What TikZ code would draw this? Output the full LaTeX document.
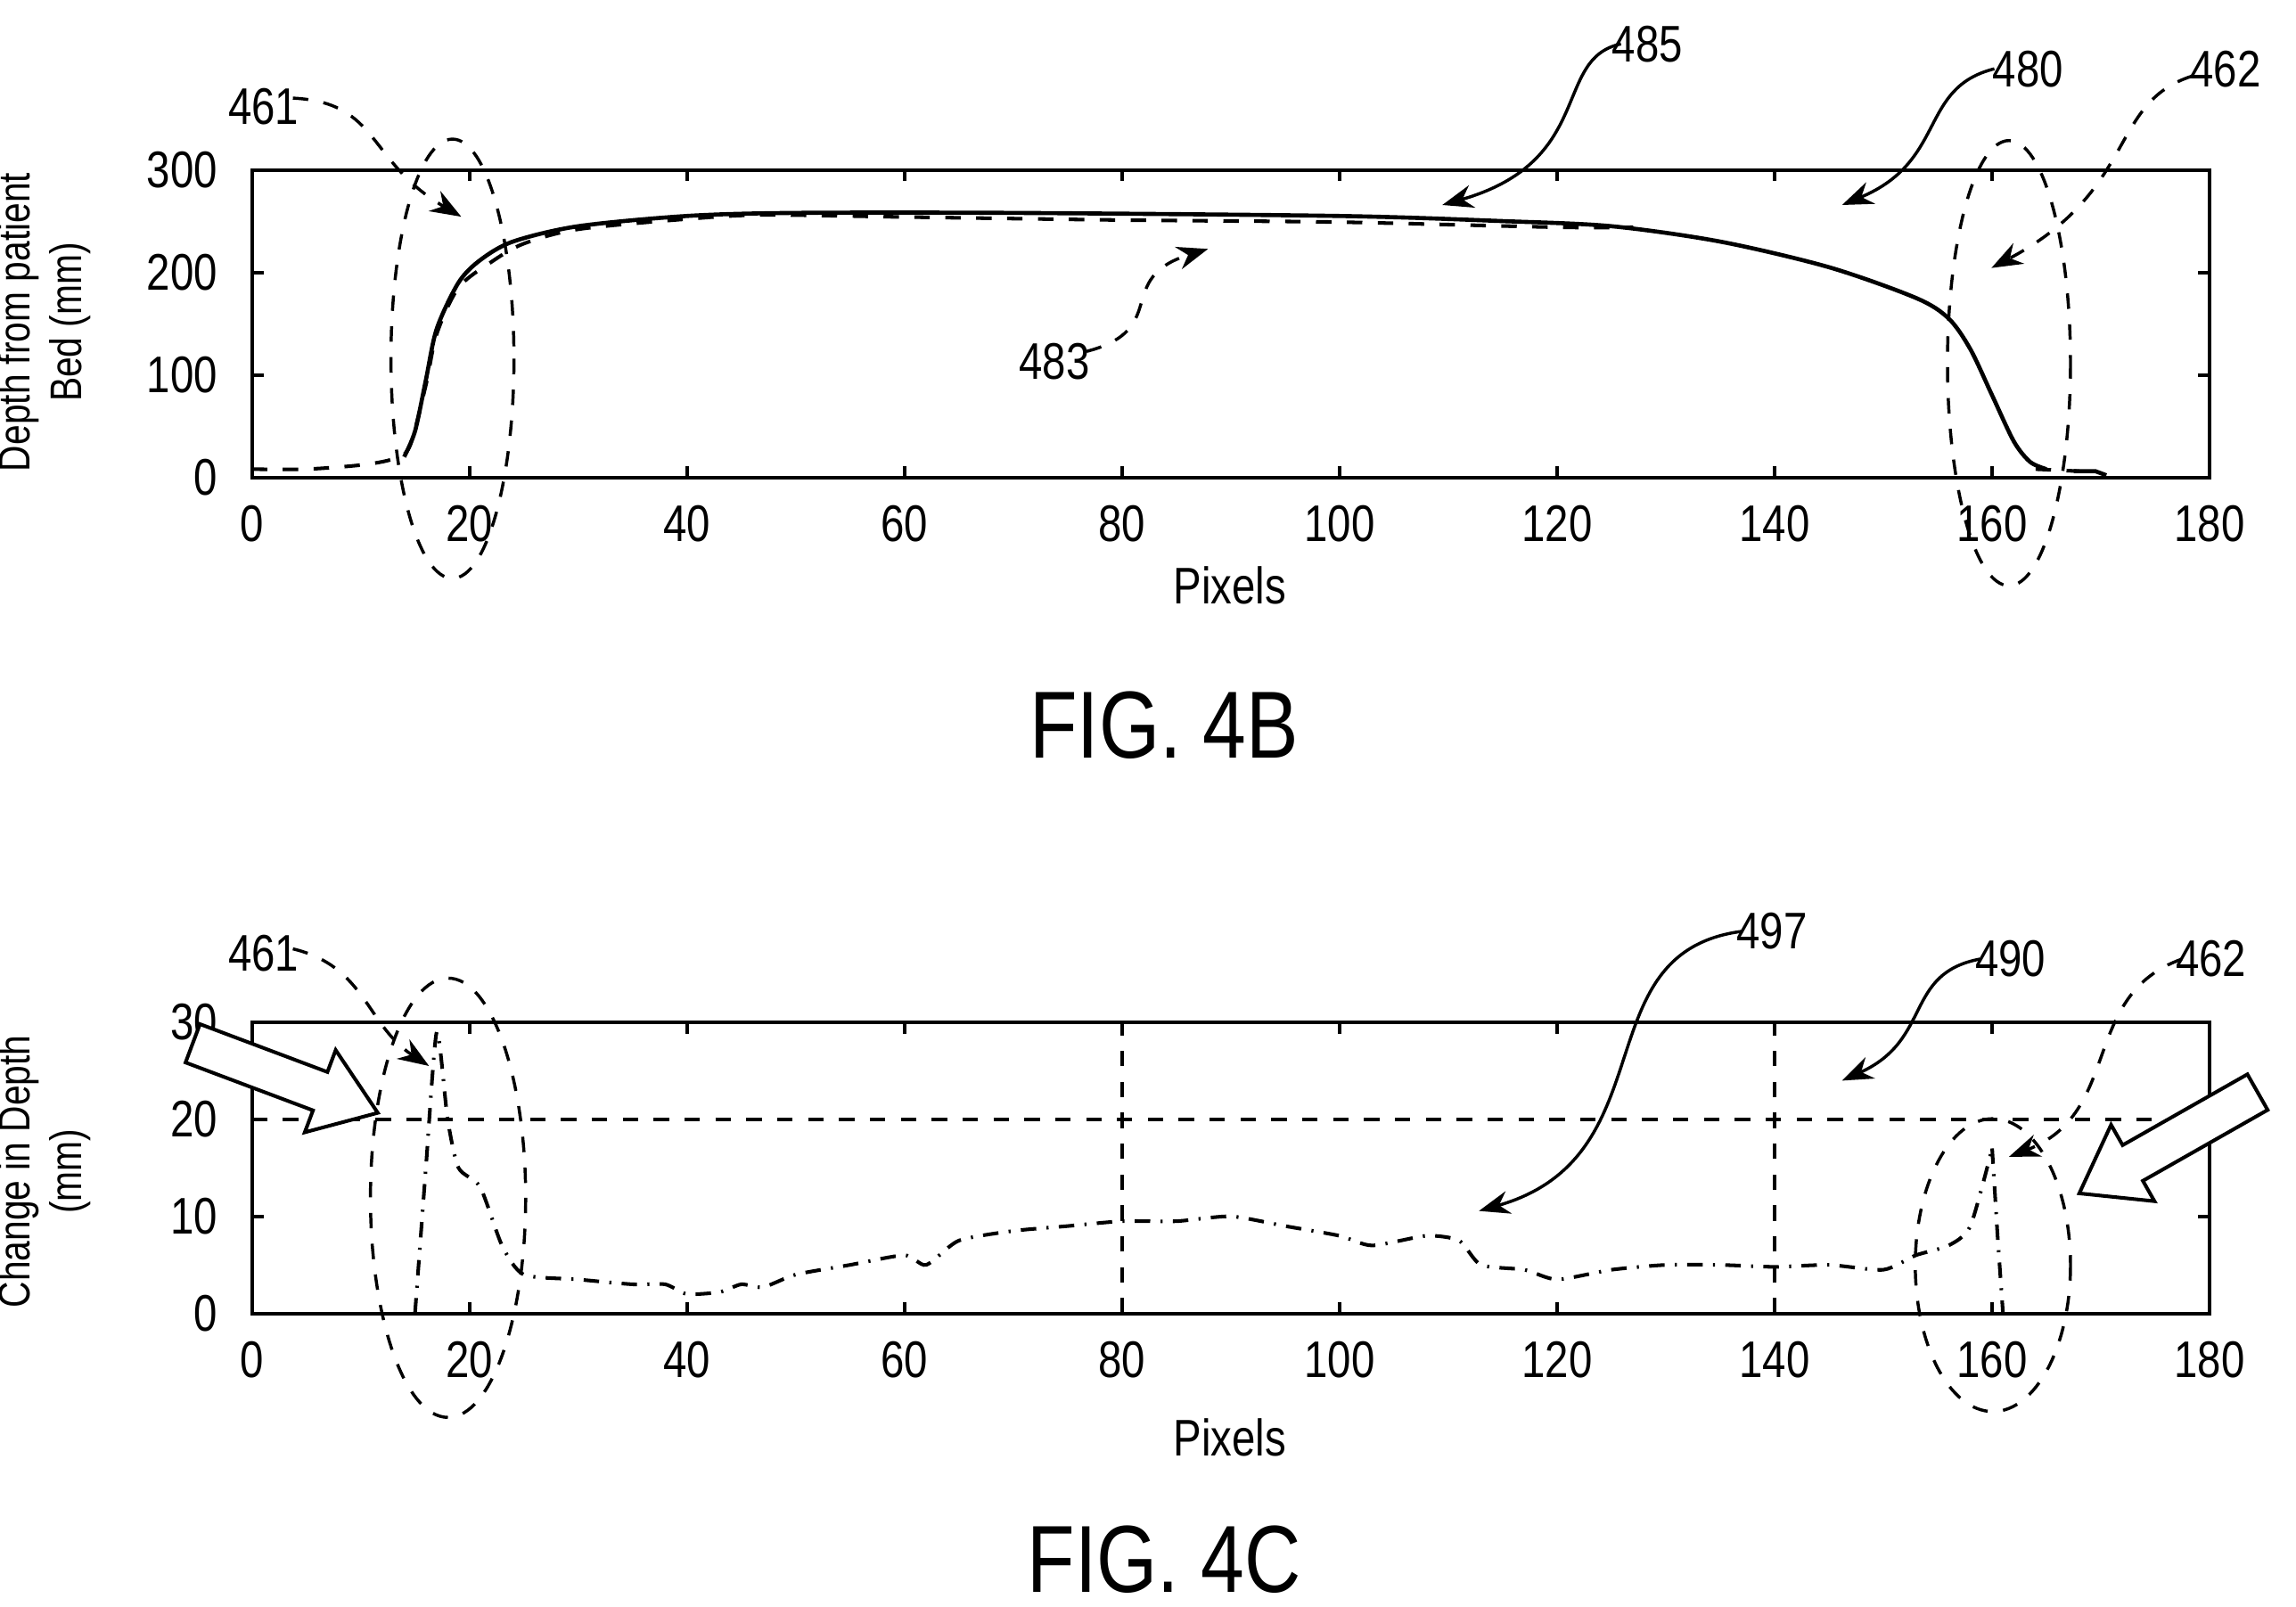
\documentclass[tikz,border=0pt]{standalone}
\usepackage{fontspec}
\setmainfont[FakeStretch=0.82]{Liberation Sans}
\usetikzlibrary{arrows.meta}
\tikzset{
 lbl/.style={font=\fontsize{10}{12}\selectfont},
 ylab/.style={font=\fontsize{8.6}{10}\selectfont,rotate=90,align=center},
 big/.style={font=\fontsize{18.5}{22}\selectfont},
 ahead/.style={-{Stealth[length=6pt,width=4.5pt]}},
 lead/.style={ahead,line width=0.6pt},
 ell/.style={dashed,line width=0.6pt},
 ax/.style={line width=0.7pt},
 fat/.style={draw,line width=0.7pt,fill=white}
}
\begin{document}
\begin{tikzpicture}[x=0.01cm,y=-0.01cm]
\useasboundingbox (0,0) rectangle (1568,1097);
% ===== FIG 4B =====
\begin{scope}[shift={(172,326)},xscale=7.428,yscale=-0.7]
 \draw[ax] (0,0) rectangle (180,300);
 \foreach \x in {20,40,...,160}{\draw[ax] (\x,0)--(\x,11); \draw[ax] (\x,300)--(\x,289);}
 \foreach \y in {100,200}{\draw[ax] (0,\y)--(1.1,\y); \draw[ax] (180,\y)--(178.9,\y);}
 \foreach \x in {0,20,...,180}{\node[lbl,below] (xb\x) at (\x,-10) {\x};}
 \foreach \y in {0,100,200,300}{\node[lbl,left] (yb\y) at (-1.5,\y) {\y};}
 \draw[line width=0.8pt] plot[smooth,tension=0.5] coordinates {(14,20)(15,45)(16,95)(17,145)(19,190)(21,212)(24,230)(30,245)(40,255)(50,258)(70,258)(100,255)(115,250)(125,245)(135,230)(145,205)(153,175)(156,155)(158,125)(160,80)(162,35)(163.5,15)(165,8)};
 \draw[line width=0.8pt] (167.5,6)--(169.5,6)--(170.5,2);
 \draw[dashed,line width=0.7pt] plot[smooth,tension=0.5] coordinates {(0,8)(5,8)(10,12)(13,18)(14.5,30)(16,90)(17,140)(19,185)(22,210)(25,228)(30,242)(40,252)(47,256)(60,254)(80,251)(100,249)(120,244)(127,244)};
 \draw[dashed,line width=0.7pt] (164,8)--(168,6);
\end{scope}
\draw[ell] (309,245) ellipse [x radius=42,y radius=150];
\draw[ell] (1372,248) ellipse [x radius=42,y radius=152];
\node[lbl] (n461a) at (180,73) {461};
\draw[lead,dashed] (200,67) .. controls (260,70) and (250,110) .. (315,148);
\node[lbl] (n485) at (1125,30) {485};
\draw[lead] (1107,30) .. controls (1060,40) and (1090,110) .. (985,140);
\node[lbl] (n480) at (1385,47) {480};
\draw[lead] (1362,47) .. controls (1310,60) and (1330,110) .. (1258,140);
\node[lbl] (n462a) at (1520,47) {462};
\draw[lead,dashed] (1497,52) .. controls (1440,70) and (1460,130) .. (1360,183);
\node[lbl] (n483) at (720,247) {483};
\draw[lead,dashed] (742,240) .. controls (800,225) and (760,190) .. (825,170);
\node[ylab] (ylB) at (30,220) {Depth from patient\\Bed (mm)};
\node[lbl] (plB) at (840,400) {Pixels};
\node[big] (figB) at (795,495) {FIG. 4B};
% ===== FIG 4C =====
\begin{scope}[shift={(172,897)},xscale=7.428,yscale=-6.63]
 \draw[ax] (0,0) rectangle (180,30);
 \foreach \x in {20,40,...,160}{\draw[ax] (\x,0)--(\x,1.2); \draw[ax] (\x,30)--(\x,28.8);}
 \foreach \y in {10,20}{\draw[ax] (0,\y)--(1.1,\y); \draw[ax] (180,\y)--(178.9,\y);}
 \foreach \x in {0,20,...,180}{\node[lbl,below] (xc\x) at (\x,-1) {\x};}
 \foreach \y in {0,10,20,30}{\node[lbl,left] (yc\y) at (-1.5,\y) {\y};}
 \draw[dashed,line width=0.7pt] (0,20)--(180,20);
 \draw[dashed,line width=0.7pt] (80,0)--(80,30);
 \draw[dashed,line width=0.7pt] (140,0)--(140,30);
 \draw[dash dot,line width=0.7pt] plot[smooth,tension=0.4] coordinates {(15,0)(16,15)(17,29)(18,20)(19,15)(21,13)(23,7)(25,4)(30,3.5)(35,3)(38,3)(40,2)(43,2.2)(45,3)(47,2.7)(50,4)(55,5)(60,6)(62,5)(65,7.5)(70,8.5)(75,9)(80,9.5)(85,9.5)(90,10)(95,9)(100,8)(103,7)(108,8)(111,7.5)(113,5)(117,4.5)(120,3.5)(125,4.5)(130,5)(135,5)(140,4.8)(145,5)(150,4.5)(153,6)(156,7)(158,9)(160,17)};
 \draw[dash dot,line width=0.7pt] (160,17)--(160.5,8)--(161,0);
\end{scope}
\draw[ell] (306,818) ellipse [x radius=53,y radius=150];
\draw[ell] (1361,864) ellipse [x radius=53,y radius=100];
\node[lbl] (n461b) at (180,651) {461};
\draw[lead,dashed] (200,648) .. controls (250,660) and (250,700) .. (293,728);
\node[lbl] (n497) at (1210,636) {497};
\draw[lead] (1190,636) .. controls (1080,650) and (1140,790) .. (1010,827);
\node[lbl] (n490) at (1373,655) {490};
\draw[lead] (1352,655) .. controls (1300,665) and (1320,710) .. (1258,738);
\node[lbl] (n462b) at (1510,655) {462};
\draw[lead,dashed] (1490,655) .. controls (1420,680) and (1450,760) .. (1372,790);
% block arrows
\begin{scope}[shift={(258,760)},rotate=159.4]
 \draw[fat] (0,0)--(42,-30)--(42,-14)--(135,-14)--(135,14)--(42,14)--(42,30)--cycle;
\end{scope}
\begin{scope}[shift={(1420,815)},rotate=29.6]
 \draw[fat] (0,0)--(42,-30)--(42,-14)--(140,-14)--(140,14)--(42,14)--(42,30)--cycle;
\end{scope}
\node[ylab] (ylC) at (30,800) {Change in Depth\\(mm)};
\node[lbl] (plC) at (840,982) {Pixels};
\node[big] (figC) at (795,1065) {FIG. 4C};
\end{tikzpicture}
\end{document}
